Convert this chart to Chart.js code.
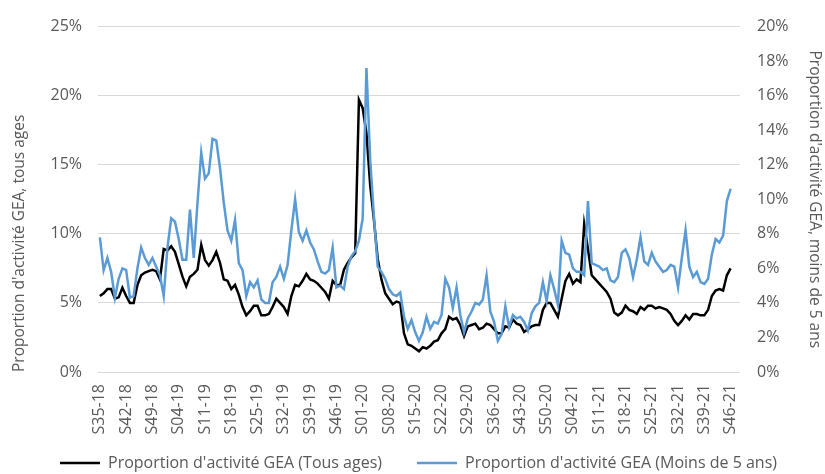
<!DOCTYPE html>
<html lang="fr">
<head>
    <meta charset="UTF-8">
    <title>Proportion d'activité GEA</title>
    <script src="https://cdn.jsdelivr.net/npm/chart.js"></script>
    <style>
        html, body {
            margin: 0;
            padding: 0;
            background: #ffffff;
        }
        .wrap {
            width: 825px;
            height: 474px;
        }
    </style>
</head>
<body>
    <div class="wrap"><canvas id="geaChart" width="825" height="474"></canvas></div>

    <script>
        // semaines : S35-18 ... S46-21 (2 semaines vides en fin d'axe, comme l'original)
        const startWeek = 35;
        const startYear = 18;
        const weeksInYear = { 18: 52, 19: 52, 20: 53, 21: 52 };
        const nbWeeks = 171;
        const labelStep = 7;

        const weeks = [];
        let w = startWeek, yr = startYear;
        for (let i = 0; i < nbWeeks; i++) {
            weeks.push('S' + String(w).padStart(2, '0') + '-' + yr);
            w++;
            if (w > weeksInYear[yr]) { w = 1; yr++; }
        }

        // Proportion d'activité GEA (Tous ages), en %
        const tousAges = [
            5.5, 5.7, 6.0, 6.0, 5.3, 5.4, 6.1, 5.5, 5.0, 5.0,
            6.3, 7.0, 7.2, 7.3, 7.4, 7.3, 6.7, 8.9, 8.8, 9.1,
            8.7, 7.8, 6.9, 6.2, 6.9, 7.1, 7.4, 9.2, 8.1, 7.7,
            8.1, 8.7, 7.9, 6.7, 6.6, 6.0, 6.3, 5.6, 4.7, 4.1,
            4.4, 4.8, 4.8, 4.1, 4.1, 4.2, 4.7, 5.3, 5.0, 4.7,
            4.2, 5.5, 6.3, 6.2, 6.6, 7.1, 6.7, 6.6, 6.4, 6.1,
            5.8, 5.3, 6.6, 6.3, 6.3, 7.4, 7.9, 8.3, 8.6, 19.7,
            19.1, 17.3, 13.5, 11.0, 8.2, 6.7, 5.7, 5.3, 4.9, 5.1,
            5.0, 2.8, 2.0, 1.9, 1.7, 1.5, 1.8, 1.7, 1.9, 2.2,
            2.3, 2.8, 3.1, 4.0, 3.8, 3.9, 3.4, 2.6, 3.3, 3.4,
            3.5, 3.1, 3.2, 3.5, 3.4, 3.1, 2.8, 2.8, 3.3, 3.2,
            3.8, 3.5, 3.4, 2.9, 3.1, 3.3, 3.4, 3.4, 4.5, 5.0,
            5.0, 4.5, 4.0, 5.3, 6.6, 7.1, 6.4, 6.7, 6.5, 10.7,
            8.9, 7.0, 6.7, 6.4, 6.1, 5.8, 5.3, 4.3, 4.1, 4.3,
            4.8, 4.5, 4.4, 4.2, 4.7, 4.5, 4.8, 4.8, 4.6, 4.7,
            4.6, 4.5, 4.2, 3.7, 3.4, 3.7, 4.1, 3.8, 4.2, 4.2,
            4.1, 4.1, 4.5, 5.5, 5.9, 6.0, 5.9, 7.0, 7.5
        ];

        // Proportion d'activité GEA (Moins de 5 ans), en %
        const moinsDe5Ans = [
            7.8, 5.9, 6.6, 5.8, 4.3, 5.4, 6.0, 5.9, 4.3, 4.4,
            6.0, 7.2, 6.6, 6.2, 6.6, 6.1, 5.6, 4.4, 7.2, 8.9,
            8.7, 7.7, 6.5, 6.5, 9.4, 6.6, 9.8, 12.7, 11.2, 11.5,
            13.5, 13.4, 11.8, 9.8, 8.2, 7.6, 8.8, 6.3, 5.9, 4.4,
            5.2, 4.9, 5.3, 4.2, 4.0, 4.0, 5.2, 5.5, 6.1, 5.4,
            6.2, 8.2, 10.0, 8.1, 7.6, 8.2, 7.5, 7.1, 6.4, 5.8,
            5.7, 5.9, 7.2, 4.9, 5.0, 4.8, 6.1, 6.7, 7.0, 7.6,
            8.9, 17.6, 12.3, 9.0, 6.1, 5.8, 5.4, 4.8, 4.5, 4.4,
            4.6, 3.2, 2.5, 3.0, 2.3, 1.8, 2.3, 3.2, 2.5, 2.9,
            2.8, 3.3, 5.4, 4.9, 3.7, 4.9, 3.3, 2.3, 3.1, 3.5,
            4.0, 3.9, 4.2, 5.6, 3.5, 2.9, 1.8, 2.2, 3.8, 2.6,
            3.3, 3.1, 3.2, 2.9, 2.4, 3.4, 3.8, 4.0, 5.2, 4.1,
            5.6, 4.8, 3.9, 7.6, 6.9, 6.8, 6.0, 5.8, 5.8, 5.6,
            9.9, 6.3, 6.2, 6.1, 5.9, 6.0, 5.3, 5.2, 5.5, 6.9,
            7.1, 6.6, 5.5, 6.5, 7.8, 6.4, 6.2, 6.9, 6.4, 6.1,
            5.8, 5.9, 6.2, 6.1, 4.9, 6.6, 8.2, 6.1, 5.5, 5.8,
            5.2, 5.1, 5.4, 6.8, 7.7, 7.5, 7.9, 9.9, 10.6
        ];

        const textColor = '#595959';
        const gridColor = '#d9d9d9';
        const fontFamily = "'Open Sans', sans-serif";

        // remonte la légende (l'espacement horizontal de 35px la rend trop haute)
        const legendShift = {
            id: 'legendShift',
            afterLayout(chart) {
                chart.legend.top -= 14;
                chart.legend.bottom -= 14;
                chart.legend.left += 6;
                chart.legend.right += 6;
            }
        };

        const ctx = document.getElementById('geaChart').getContext('2d');
        const geaChart = new Chart(ctx, {
            type: 'line',
            data: {
                labels: weeks,
                datasets: [{
                    label: "Proportion d'activité GEA (Tous ages)",
                    data: tousAges,
                    yAxisID: 'y',
                    borderColor: '#000000',
                    backgroundColor: '#000000',
                    borderWidth: 2.5,
                    pointRadius: 0,
                    pointStyle: 'line',
                    tension: 0,
                    order: 1
                }, {
                    label: "Proportion d'activité GEA (Moins de 5 ans)",
                    data: moinsDe5Ans,
                    yAxisID: 'y1',
                    borderColor: '#5b9bd5',
                    backgroundColor: '#5b9bd5',
                    borderWidth: 2.5,
                    pointRadius: 0,
                    pointStyle: 'line',
                    tension: 0,
                    order: 0
                }]
            },
            plugins: [legendShift],
            options: {
                responsive: false,
                animation: false,
                devicePixelRatio: 1,
                layout: { padding: { top: 17, left: 0, right: 0, bottom: -21 } },
                plugins: {
                    legend: {
                        position: 'bottom',
                        labels: {
                            usePointStyle: true,
                            pointStyleWidth: 40,
                            boxWidth: 40,
                            boxHeight: 3,
                            padding: 35,
                            color: textColor,
                            font: { family: fontFamily, size: 16 },
                            sort: (a, b) => a.datasetIndex - b.datasetIndex
                        }
                    },
                    tooltip: { enabled: false }
                },
                scales: {
                    x: {
                        offset: true,
                        grid: { display: false, drawTicks: false },
                        border: { display: false },
                        ticks: {
                            autoSkip: false,
                            maxRotation: 90,
                            minRotation: 90,
                            padding: 12,
                            color: textColor,
                            font: { family: fontFamily, size: 16 },
                            callback: (val, idx) => idx % labelStep === 0 && idx < tousAges.length ? weeks[idx] : ''
                        },
                        afterFit: s => { s.height = 62; }
                    },
                    y: {
                        position: 'left',
                        min: 0,
                        max: 25,
                        grid: { color: gridColor, drawTicks: false },
                        border: { display: false },
                        ticks: {
                            stepSize: 5,
                            padding: 16,
                            color: textColor,
                            font: { family: fontFamily, size: 16 },
                            callback: v => v + '%'
                        },
                        title: {
                            display: true,
                            align: 'start',
                            text: "Proportion d'activité GEA, tous ages",
                            color: textColor,
                            font: { family: fontFamily, size: 15.5 },
                            padding: { top: 10, bottom: 0 }
                        },
                        afterFit: s => { s.width = 98; }
                    },
                    y1: {
                        position: 'right',
                        min: 0,
                        max: 20,
                        grid: { display: false, drawTicks: false },
                        border: { display: false },
                        ticks: {
                            stepSize: 2,
                            padding: 17,
                            color: textColor,
                            font: { family: fontFamily, size: 16 },
                            callback: v => v + '%'
                        },
                        title: {
                            display: true,
                            text: "Proportion d'activité GEA, moins de 5 ans",
                            color: textColor,
                            font: { family: fontFamily, size: 15.5 },
                            padding: { top: 1, bottom: 0 }
                        },
                        afterFit: s => { s.width = 85; }
                    }
                }
            }
        });
    </script>
</body>
</html>
